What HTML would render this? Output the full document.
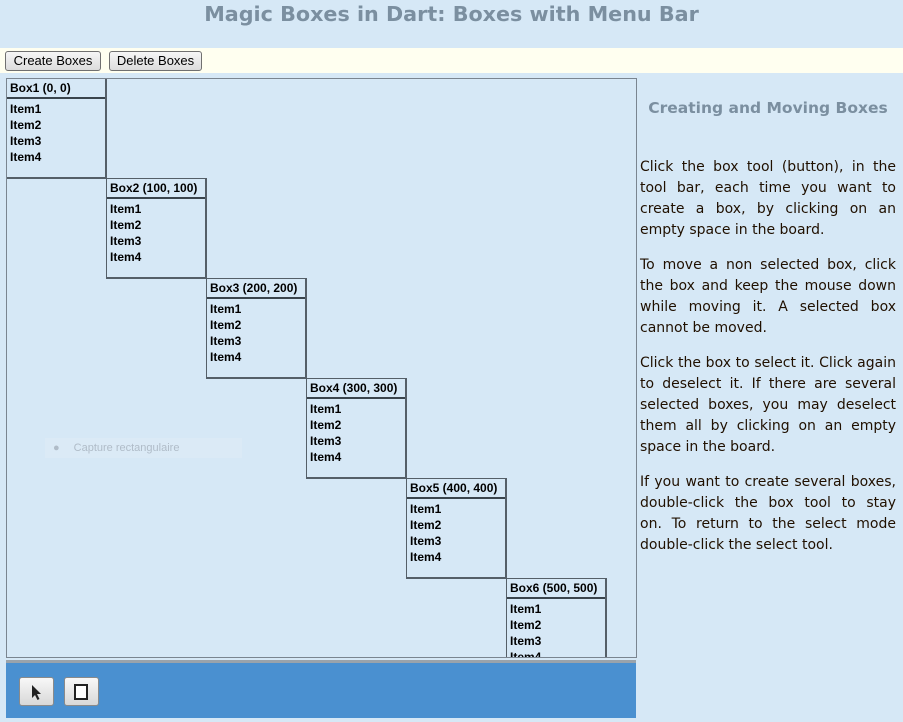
<!DOCTYPE html>
<html><head><meta charset="utf-8"><style>
body{margin:0;width:903px;height:722px;background:#d6e8f6;position:relative;overflow:hidden;font-family:"Liberation Sans",sans-serif}
h1{position:absolute;left:0;width:903px;top:1px;margin:0;text-align:center;font:bold 20.7px "DejaVu Sans",sans-serif;color:#7b8fa0;line-height:27px}
.tb{position:absolute;left:0;top:48px;width:903px;height:25px;background:#fffff0}
.btn{position:absolute;top:3px;height:18px;border:1px solid #707070;border-radius:3px;background:linear-gradient(#f6f6f6,#dcdcdc);font-size:13px;line-height:18px;text-align:center;color:#000}
.board{position:absolute;left:6px;top:78px;width:629px;height:578px;border:1px solid #7a8590;overflow:hidden}
.box{position:absolute;border-right:2px solid #555f68;border-bottom:2px solid #555f68;border-left:1px solid #555f68;border-top:1px solid #555f68;box-sizing:border-box;width:101px;height:101px}
.hd{height:18px;border-bottom:2px solid #3a444c;font:bold 12px "Liberation Sans",sans-serif;line-height:19px;padding-left:3px}
.it{font:bold 12px "Liberation Sans",sans-serif;line-height:16px;padding-left:3px;padding-top:2px}
.bar{position:absolute;left:6px;top:660px;width:630px;height:58px;background:#4a90d0;border-top:3px solid #9aa3ab;box-sizing:border-box}
.tbt{position:absolute;top:14px;width:35px;height:29px;border:1px solid #8a8a8a;border-radius:3px;background:linear-gradient(#f8f8f8,#d8d8d8);box-sizing:border-box}
.side{position:absolute;left:640px;top:0;width:256px;font:14px "DejaVu Sans",sans-serif;color:#201000;line-height:21px}
.side h2{position:absolute;top:99px;left:0;width:256px;margin:0;text-align:center;font:bold 15.5px "DejaVu Sans",sans-serif;color:#7b8fa0;white-space:nowrap}
.l{text-align:justify;text-align-last:justify;white-space:nowrap;height:21px}
.ll{text-align:left;white-space:nowrap;height:21px}
.p{position:absolute;left:0;width:256px}
</style></head><body>
<h1>Magic Boxes in Dart: Boxes with Menu Bar</h1>
<div class="tb"><div class="btn" style="left:5px;width:94px">Create Boxes</div><div class="btn" style="left:109px;width:91px">Delete Boxes</div></div>
<div class="board">
<div style="position:absolute;left:38px;top:359px;width:197px;height:20px;background:#dbeaf6;color:#b0bcc8;font-size:11px;line-height:20px"><span style="margin-left:8px">●</span><span style="margin-left:14px">Capture rectangulaire</span></div>
<div class="box" style="left:-1px;top:-1px"><div class="hd">Box1 (0, 0)</div><div class="it">Item1<br>Item2<br>Item3<br>Item4</div></div>
<div class="box" style="left:99px;top:99px"><div class="hd">Box2 (100, 100)</div><div class="it">Item1<br>Item2<br>Item3<br>Item4</div></div>
<div class="box" style="left:199px;top:199px"><div class="hd">Box3 (200, 200)</div><div class="it">Item1<br>Item2<br>Item3<br>Item4</div></div>
<div class="box" style="left:299px;top:299px"><div class="hd">Box4 (300, 300)</div><div class="it">Item1<br>Item2<br>Item3<br>Item4</div></div>
<div class="box" style="left:399px;top:399px"><div class="hd">Box5 (400, 400)</div><div class="it">Item1<br>Item2<br>Item3<br>Item4</div></div>
<div class="box" style="left:499px;top:499px"><div class="hd">Box6 (500, 500)</div><div class="it">Item1<br>Item2<br>Item3<br>Item4</div></div>
</div>
<div class="bar">
<div class="tbt" style="left:13px"><svg width="33" height="27" viewBox="0 0 33 27"><path d="M12 7 L12 20 L15 17 L17.5 22 L19.5 21 L17 16 L21 16 Z" fill="#222"/></svg></div>
<div class="tbt" style="left:58px"><div style="position:absolute;left:9px;top:6px;width:10px;height:12px;border:2px solid #222;background:#fff"></div></div>
</div>
<div class="side">
<h2>Creating and Moving Boxes</h2>
<div class="p" style="top:157px"><div class="l">Click the box tool (button), in the</div><div class="l">tool bar, each time you want to</div><div class="l">create a box, by clicking on an</div><div class="ll">empty space in the board.</div></div>
<div class="p" style="top:255px"><div class="l">To move a non selected box, click</div><div class="l">the box and keep the mouse down</div><div class="l">while moving it. A selected box</div><div class="ll">cannot be moved.</div></div>
<div class="p" style="top:353px"><div class="l">Click the box to select it. Click again</div><div class="l">to deselect it. If there are several</div><div class="l">selected boxes, you may deselect</div><div class="l">them all by clicking on an empty</div><div class="ll">space in the board.</div></div>
<div class="p" style="top:472px"><div class="l">If you want to create several boxes,</div><div class="l">double-click the box tool to stay</div><div class="l">on. To return to the select mode</div><div class="ll">double-click the select tool.</div></div>
</div>
</body></html>
